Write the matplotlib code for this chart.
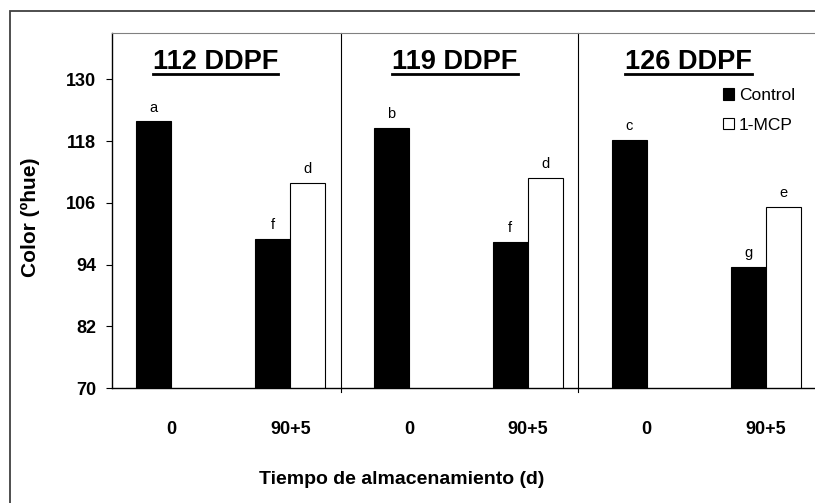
import numpy as np
import matplotlib
matplotlib.use('Agg')
import matplotlib.pyplot as plt
from matplotlib.patches import Patch, Rectangle
from matplotlib.lines import Line2D

plt.rcParams['font.family'] = ['Liberation Sans', 'DejaVu Sans']

# data
periods = ['112 DDPF', '119 DDPF', '126 DDPF']
days = ['0', '90+5']
control = [121.8, 98.9, 120.5, 98.3, 118.2, 93.5]
mcp = [np.nan, 109.8, np.nan, 110.9, np.nan, 105.2]
control_letters = ['a', 'f', 'b', 'f', 'c', 'g']
mcp_letters = ['', 'd', '', 'd', '', 'e']
yticks = [70, 82, 94, 106, 118, 130]

W, H = 815, 503
fig = plt.figure(figsize=(W / 100, H / 100), dpi=100)
ax = fig.add_axes([112 / W, (H - 388) / H, (825 - 112) / W, (388 - 33) / H])

x = np.arange(len(control))
w = 0.295
ax.bar(x - w / 2, control, w, color='black', edgecolor='black', linewidth=0.8,
       label='Control')
ax.bar(x + w / 2, mcp, w, color='white', edgecolor='black', linewidth=0.8, label='1-MCP')

for xi, v, t in zip(x - w / 2, control, control_letters):
    ax.annotate(t, (xi, v), xytext=(0, 5), textcoords='offset points',
                ha='center', va='bottom', fontsize=10.5)
for xi, v, t in zip(x + w / 2, mcp, mcp_letters):
    if t:
        ax.annotate(t, (xi, v), xytext=(0, 5), textcoords='offset points',
                    ha='center', va='bottom', fontsize=10.5)

ax.set_xlim(-0.5, 5.5)
ax.set_ylim(70, 139)
ax.set_yticks(yticks)
ax.set_yticklabels([str(t) for t in yticks], fontsize=13, fontweight='bold')
ax.set_xticks(x)
ax.set_xticklabels(days * 3, fontsize=13, fontweight='bold')
ax.tick_params(axis='x', length=0, pad=24)
ax.tick_params(axis='y', length=4.3, width=0.8, pad=7, direction='out')

for s in ['left', 'bottom']:
    ax.spines[s].set_color('black')
    ax.spines[s].set_linewidth(1)
ax.spines['top'].set_color('#808080')
ax.spines['right'].set_visible(False)

# panel dividers
for d in [1.43, 3.42]:
    ax.plot([d, d], [69.2, 139], color='black', lw=0.8, clip_on=False)

ax.set_ylabel('Color (ºhue)', fontsize=15, fontweight='bold')
ax.yaxis.set_label_coords((40 - 112) / (825 - 112), (388 - 217) / (388 - 33))
fig.text(402 / W, 1 - 480 / H, 'Tiempo de almacenamiento (d)', ha='center', va='center',
         fontsize=14, fontweight='bold')

# panel titles with underline
title_x = [0.37, 2.386, 4.35]
titles = []
for tx, p in zip(title_x, periods):
    titles.append(ax.text(tx, 133.4, p, ha='center', va='center', fontsize=19.5,
                          fontweight='bold'))
fig.canvas.draw()
r = fig.canvas.get_renderer()
for t in titles:
    bb = t.get_window_extent(r)
    yline = H - 74
    fig.add_artist(Line2D([bb.x0 / W, bb.x1 / W], [yline / H, yline / H],
                          color='black', lw=2, transform=fig.transFigure))

handles = [Patch(facecolor='black', edgecolor='black', lw=0.8),
           Patch(facecolor='white', edgecolor='black', lw=0.8)]
fig.legend(handles, ['Control', '1-MCP'], loc='upper left',
           bbox_to_anchor=(723 / W, 1 - 88 / H), frameon=False, fontsize=12.5,
           handlelength=0.65, handleheight=0.65, handletextpad=0.25,
           labelspacing=0.85, borderpad=0, borderaxespad=0)

# outer chart border
fig.add_artist(Rectangle((10 / W, -0.05), 1.1, 1.05 - 11 / H, fill=False,
                         edgecolor='#404040', lw=1.3, transform=fig.transFigure))

fig.savefig('out.png', dpi=100)
